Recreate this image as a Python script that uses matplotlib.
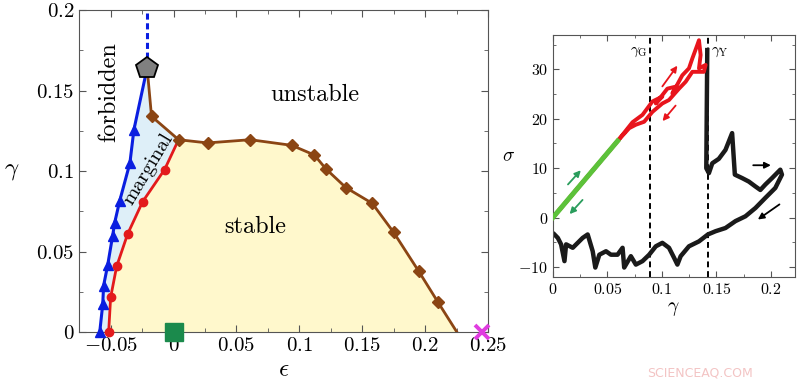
import matplotlib
matplotlib.use("Agg")
import matplotlib.pyplot as plt
from matplotlib.ticker import MultipleLocator

plt.rcParams['font.family'] = ['cmr10', 'DejaVu Serif']
plt.rcParams['mathtext.fontset'] = 'cm'
plt.rcParams['axes.formatter.use_mathtext'] = True
plt.rcParams['axes.unicode_minus'] = True

# ---- left panel: phase diagram (epsilon, gamma) ----
blue_eps = [-0.0587, -0.0563, -0.0556, -0.0524, -0.0484, -0.0468, -0.0429, -0.0347, -0.0315]
blue_gam = [0.0, 0.0173, 0.029, 0.0415, 0.060, 0.068, 0.0813, 0.105, 0.1257]

red_eps = [-0.0516, -0.0500, -0.0452, -0.0365, -0.0246, -0.0071]
red_gam = [0.0, 0.0217, 0.041, 0.061, 0.081, 0.101]

brown_eps = [-0.0175, 0.004, 0.027, 0.061, 0.094, 0.112, 0.121, 0.137, 0.158, 0.175, 0.195, 0.210]
brown_gam = [0.134, 0.1195, 0.1175, 0.1195, 0.116, 0.110, 0.1015, 0.0898, 0.080, 0.062, 0.0378, 0.019]
brown_end = (0.2254, 0.0)

tip_eps, tip_gam = -0.021, 0.164   # pentagon
green_sq = (0.0, 0.0)
pink_x = (0.245, 0.0)

# ---- right panel: stress-strain ----
green_g = [0.0, 0.0594]
green_s = [0.0, 15.5]

red_g = [0.0, 0.0594, 0.0731, 0.0823, 0.0914, 0.1005, 0.0945, 0.1051, 0.1127, 0.1097, 0.1188,
         0.1249, 0.128, 0.1325, 0.1341, 0.1356, 0.1341, 0.1402, 0.1386, 0.128, 0.1219, 0.1158,
         0.1066, 0.1005, 0.0914, 0.0838, 0.0762, 0.0701, 0.0594, 0.0]
red_s = [0.0, 15.5, 19.3, 20.8, 23.5, 24.5, 23.1, 26.1, 26.5, 25.1, 28.8,
         30.2, 32.2, 34.9, 35.9, 32.9, 30.2, 30.9, 29.5, 29.5, 27.5, 26.1,
         23.8, 23.1, 21.4, 19.4, 18.8, 18.1, 15.5, 0.0]

black_g = [0.1417, 0.1408, 0.1432, 0.1463, 0.1523, 0.1584, 0.1645, 0.167, 0.1737, 0.1798, 0.1859,
           0.1904, 0.195, 0.2011, 0.2087, 0.2102, 0.2041, 0.195, 0.1859, 0.1767, 0.1676, 0.1584,
           0.1493, 0.1423, 0.1341, 0.1249, 0.1173, 0.1143, 0.1112, 0.1066, 0.1005, 0.0945, 0.0884,
           0.0823, 0.0762, 0.0716, 0.0655, 0.064, 0.0594, 0.0533, 0.0488, 0.0427, 0.039, 0.0366,
           0.032, 0.0274, 0.0183, 0.0122, 0.0107, 0.0076, 0.0046, 0.0015]
black_s = [33.9, 10.0, 9.0, 11.0, 11.9, 13.7, 17.1, 8.7, 8.0, 7.3, 6.3,
           5.6, 6.7, 8.0, 9.7, 8.7, 6.0, 4.0, 1.95, 0.27, -0.7, -2.1,
           -2.75, -3.4, -4.8, -5.8, -7.8, -9.5, -8.1, -6.1, -5.1, -5.8, -7.5,
           -8.8, -9.5, -7.8, -10.1, -6.1, -7.5, -7.5, -6.8, -7.5, -10.1, -6.8,
           -3.4, -4.1, -6.1, -5.4, -8.8, -5.4, -4.1, -3.4]

gamma_G = 0.0888
gamma_Y = 0.1423

fig = plt.figure(figsize=(8, 3.82), dpi=100)

# ================= left panel =================
ax = fig.add_axes([0.099, 0.130, 0.511, 0.844])

c_blue = '#0a1ee0'
c_red = '#e31a1c'
c_brown = '#8b4513'

# stable region
st_x = red_eps + brown_eps + [brown_end[0]]
st_y = red_gam + brown_gam + [brown_end[1]]
ax.fill(st_x, st_y, color='#fff8cc', zorder=0, lw=0)

# marginal region
mg_x = blue_eps + [tip_eps] + brown_eps[:2] + red_eps[::-1]
mg_y = blue_gam + [tip_gam] + brown_gam[:2] + red_gam[::-1]
ax.fill(mg_x, mg_y, color='#deeff8', zorder=0, lw=0)

ax.plot([tip_eps, tip_eps], [tip_gam, 0.2], ls=(0, (2, 1.2)), color=c_blue, lw=2.2, zorder=2)
ax.plot(blue_eps + [tip_eps], blue_gam + [tip_gam], color=c_blue, lw=2.2, zorder=3)
ax.plot(blue_eps, blue_gam, ls='none', marker='^', ms=7, color=c_blue, zorder=4, clip_on=False)
ax.plot(red_eps + [brown_eps[1]], red_gam + [brown_gam[1]], color=c_red, lw=2.0, zorder=3)
ax.plot(red_eps, red_gam, ls='none', marker='o', ms=6, color=c_red, zorder=4, clip_on=False)
ax.plot([tip_eps] + brown_eps + [brown_end[0]], [tip_gam] + brown_gam + [brown_end[1]],
        color=c_brown, lw=2.0, zorder=3)
ax.plot(brown_eps, brown_gam, ls='none', marker='D', ms=6.5, color=c_brown, zorder=5)
ax.plot([tip_eps], [tip_gam], marker='p', ms=16, color='#808080', mec='black', mew=1.3, zorder=6)
ax.plot([green_sq[0]], [green_sq[1]], marker='s', ms=13, color='#1b8a4c', zorder=7, clip_on=False)
ax.plot([pink_x[0]], [pink_x[1]], marker='x', ms=10, mew=2.8, color='#e03ce0', zorder=7, clip_on=False)

ax.text(-0.0512, 0.149, 'forbidden', rotation=90, fontsize=17.5, ha='center', va='center')
ax.text(-0.020, 0.101, 'marginal', rotation=59, fontsize=15, ha='center', va='center')
ax.text(0.1127, 0.147, 'unstable', fontsize=17.5, ha='center', va='center')
ax.text(0.065, 0.0656, 'stable', fontsize=17.5, ha='center', va='center')

ax.set_xlim(-0.075, 0.25)
ax.set_ylim(0, 0.2)
ax.xaxis.set_minor_locator(MultipleLocator(0.025))
ax.yaxis.set_minor_locator(MultipleLocator(0.025))
ax.set_xticks([-0.05, 0, 0.05, 0.1, 0.15, 0.2, 0.25])
ax.set_xticklabels(['$-0.05$', '$0$', '$0.05$', '$0.1$', '$0.15$', '$0.2$', '$0.25$'])
ax.set_yticks([0, 0.05, 0.1, 0.15, 0.2])
ax.set_yticklabels(['$0$', '$0.05$', '$0.1$', '$0.15$', '$0.2$'])
ax.tick_params(which='both', direction='in', top=True, right=True, color='#555555', labelsize=15)
ax.tick_params(which='major', length=5)
ax.tick_params(which='minor', length=3)
ax.set_xlabel(r'$\epsilon$', fontsize=18, labelpad=3)
ax.set_ylabel(r'$\gamma$', fontsize=18, rotation=0, labelpad=18, va='center')
for s in ax.spines.values():
    s.set_color('#555555')

# ================= right panel =================
ax2 = fig.add_axes([0.691, 0.275, 0.3025, 0.634])
ax2.axvline(gamma_G, color='black', ls=(0, (3, 2)), lw=1.4, zorder=1)
ax2.axvline(gamma_Y, color='black', ls=(0, (3, 2)), lw=1.4, zorder=1)
ax2.plot(black_g, black_s, color='#1a1a1a', lw=3.2, zorder=2)
ax2.plot(red_g, red_s, color='#e8141c', lw=2.8, zorder=3)
ax2.plot(green_g, green_s, color='#5cc23a', lw=3.6, zorder=4)

arrows = [
    ((0.0122, 6.3), (0.0274, 10.0), '#2a9d5c'),
    ((0.029, 4.0), (0.0137, 0.3), '#2a9d5c'),
    ((0.099, 26.1), (0.1158, 31.2), '#e8141c'),
    ((0.1143, 23.1), (0.099, 19.1), '#e8141c'),
    ((0.1813, 10.6), (0.2026, 10.6), 'black'),
    ((0.210, 3.0), (0.186, -0.7), 'black'),
]
for start, end, col in arrows:
    ax2.annotate('', xy=end, xytext=start,
                 arrowprops=dict(arrowstyle='-|>', color=col, lw=1.3, mutation_scale=9))

ax2.text(gamma_G - 0.002, 33.6, r'$\gamma_{\rm G}$', fontsize=11, ha='right', va='center')
ax2.text(gamma_Y + 0.003, 33.6, r'$\gamma_{\rm Y}$', fontsize=11, ha='left', va='center')

ax2.set_xlim(0, 0.222)
ax2.set_ylim(-12, 37)
ax2.set_xticks([0, 0.05, 0.1, 0.15, 0.2])
ax2.set_xticklabels(['$0$', '$0.05$', '$0.1$', '$0.15$', '$0.2$'])
ax2.set_yticks([-10, 0, 10, 20, 30])
ax2.set_yticklabels(['$-10$', '$0$', '$10$', '$20$', '$30$'])
ax2.xaxis.set_minor_locator(MultipleLocator(0.025))
ax2.yaxis.set_minor_locator(MultipleLocator(5))
ax2.tick_params(which='both', direction='in', top=True, right=True, color='#555555', labelsize=11.5)
ax2.tick_params(which='major', length=4)
ax2.tick_params(which='minor', length=2.5)
ax2.set_xlabel(r'$\gamma$', fontsize=14, labelpad=2)
ax2.set_ylabel(r'$\sigma$', fontsize=14, rotation=0, labelpad=7, va='center')
for s in ax2.spines.values():
    s.set_color('#555555')

fig.text(0.875, 0.023, 'SCIENCEAQ.COM', fontsize=9, color='#f3c4c4', family='DejaVu Sans',
         ha='center', va='center')

fig.savefig('out.png', dpi=100)
